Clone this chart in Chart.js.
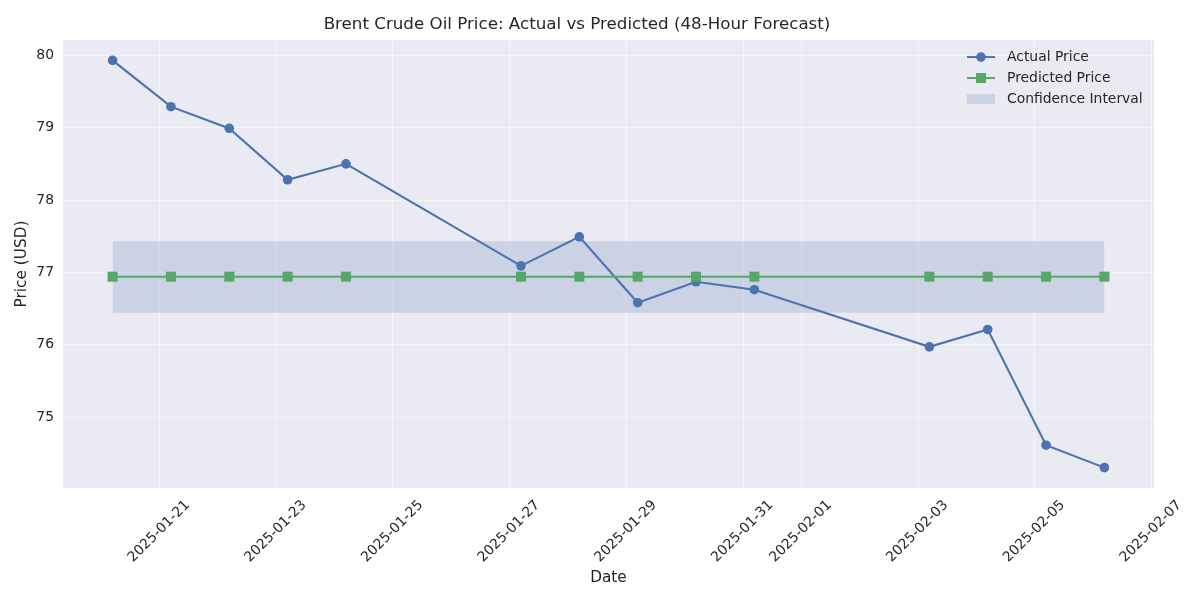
<!DOCTYPE html>
<html>
<head>
<meta charset="utf-8">
<script src="https://cdn.jsdelivr.net/npm/chart.js@4.4.1/dist/chart.umd.min.js"></script>
<style>
  html, body { margin: 0; padding: 0; background: #fff; }
  #wrap { width: 1200px; height: 600px; }
</style>
</head>
<body>
<div id="wrap"><canvas id="oilChart" width="1200" height="600"></canvas></div>
<script>
// data
const dates = [
    "2025-01-20T04:40Z", "2025-01-21T04:40Z", "2025-01-22T04:40Z", "2025-01-23T04:40Z", "2025-01-24T04:40Z",
    "2025-01-27T04:40Z", "2025-01-28T04:40Z", "2025-01-29T04:40Z", "2025-01-30T04:40Z", "2025-01-31T04:40Z",
    "2025-02-03T04:40Z", "2025-02-04T04:40Z", "2025-02-05T04:40Z", "2025-02-06T04:40Z"
];
const actualPrice = [79.93, 79.29, 78.99, 78.28, 78.50, 77.09, 77.49, 76.58, 76.87, 76.76, 75.97, 76.21, 74.61, 74.30];
const predictedPrice = [76.94, 76.94, 76.94, 76.94, 76.94, 76.94, 76.94, 76.94, 76.94, 76.94, 76.94, 76.94, 76.94, 76.94];
const ciUpper = [77.43, 77.43, 77.43, 77.43, 77.43, 77.43, 77.43, 77.43, 77.43, 77.43, 77.43, 77.43, 77.43, 77.43];
const ciLower = [76.44, 76.44, 76.44, 76.44, 76.44, 76.44, 76.44, 76.44, 76.44, 76.44, 76.44, 76.44, 76.44, 76.44];
const xTickDates = ["2025-01-21", "2025-01-23", "2025-01-25", "2025-01-27", "2025-01-29", "2025-01-31",
    "2025-02-01", "2025-02-03", "2025-02-05", "2025-02-07"];
const yTicks = [75, 76, 77, 78, 79, 80];

const BLUE = "#4c72b0";
const GREEN = "#55a868";
const BAND = "rgba(76, 114, 176, 0.2)";
const TEXT = "#262626";
const FONT = "'DejaVu Sans', sans-serif";

const xs = dates.map(d => Date.parse(d));
const pts = arr => arr.map((v, i) => ({ x: xs[i], y: v }));

// matplotlib style 5% margins
const xMin = Math.min(...xs), xMax = Math.max(...xs);
const xPad = (xMax - xMin) * 0.05;
const yMin = Math.min(...actualPrice), yMax = Math.max(...actualPrice);
const yPad = (yMax - yMin) * 0.05;

const plotBg = {
    id: "plotBg",
    beforeDraw(chart) {
        const { ctx, chartArea: a } = chart;
        ctx.save();
        ctx.fillStyle = "#eaeaf2";
        ctx.fillRect(a.left, a.top, a.right - a.left, a.bottom - a.top);
        ctx.restore();
    }
};

// legend drawn inside the plot, top right, with line+marker swatches
const innerLegend = {
    id: "innerLegend",
    afterDraw(chart) {
        const { ctx, chartArea: a } = chart;
        const x0 = a.right - 187;
        let y = a.top + 17;
        const items = [
            { label: "Actual Price", color: BLUE, marker: "circle" },
            { label: "Predicted Price", color: GREEN, marker: "square" },
            { label: "Confidence Interval", color: BAND, marker: "patch" },
        ];
        ctx.save();
        ctx.font = "13.9px " + FONT;
        ctx.textBaseline = "middle";
        items.forEach(it => {
            if (it.marker === "patch") {
                ctx.fillStyle = it.color;
                ctx.fillRect(x0, y - 5, 28, 10);
            } else {
                ctx.strokeStyle = it.color;
                ctx.lineWidth = 2;
                ctx.beginPath();
                ctx.moveTo(x0, y);
                ctx.lineTo(x0 + 28, y);
                ctx.stroke();
                ctx.fillStyle = it.color;
                if (it.marker === "circle") {
                    ctx.beginPath();
                    ctx.arc(x0 + 14, y, 4.8, 0, Math.PI * 2);
                    ctx.fill();
                } else {
                    ctx.fillRect(x0 + 9, y - 5, 10, 10);
                }
            }
            ctx.fillStyle = TEXT;
            ctx.fillText(it.label, x0 + 40, y);
            y += 21;
        });
        ctx.restore();
    }
};

new Chart(document.getElementById("oilChart").getContext("2d"), {
    type: "line",
    data: {
        datasets: [
            {
                label: "Predicted Price", data: pts(predictedPrice), borderColor: GREEN, backgroundColor: GREEN,
                borderWidth: 2.1, pointStyle: "rect", pointRadius: 7.07, pointBorderWidth: 0, order: 1, fill: false
            },
            {
                label: "Actual Price", data: pts(actualPrice), borderColor: BLUE, backgroundColor: BLUE,
                borderWidth: 2.1, pointStyle: "circle", pointRadius: 4.8, pointBorderWidth: 0, order: 2, fill: false
            },
            {
                label: "CI lower", data: pts(ciLower), borderWidth: 0, pointRadius: 0, order: 4, fill: false,
                borderColor: "rgba(0,0,0,0)"
            },
            {
                label: "Confidence Interval", data: pts(ciUpper), borderWidth: 0, pointRadius: 0, order: 3,
                borderColor: "rgba(0,0,0,0)", backgroundColor: BAND, fill: "-1"
            },
        ]
    },
    options: {
        responsive: false,
        animation: false,
        events: [],
        layout: { padding: { left: 0, right: 46, top: 0, bottom: 0 } },
        elements: { line: { tension: 0 } },
        plugins: {
            legend: { display: false },
            tooltip: { enabled: false },
            title: {
                display: true,
                text: "Brent Crude Oil Price: Actual vs Predicted (48-Hour Forecast)",
                color: TEXT,
                font: { family: FONT, size: 16.7, weight: "normal" },
                padding: { top: 15, bottom: 5 }
            }
        },
        scales: {
            x: {
                type: "linear",
                min: xMin - xPad,
                max: xMax + xPad,
                afterBuildTicks: scale => { scale.ticks = xTickDates.map(d => ({ value: Date.parse(d + "T00:00Z") })); },
                afterFit: scale => { scale.height = 112; },
                ticks: {
                    autoSkip: false,
                    minRotation: 45,
                    maxRotation: 45,
                    labelOffset: 28,
                    padding: 9,
                    color: TEXT,
                    font: { family: FONT, size: 13.9 },
                    callback: v => new Date(v).toISOString().slice(0, 10)
                },
                grid: { color: "rgba(255,255,255,0.45)", lineWidth: 1, drawTicks: false },
                border: { display: false },
                title: {
                    display: true, text: "Date", color: TEXT,
                    font: { family: FONT, size: 15.3 }, padding: { top: 0, bottom: 13 }
                }
            },
            y: {
                min: yMin - yPad,
                max: yMax + yPad,
                afterBuildTicks: scale => { scale.ticks = yTicks.map(v => ({ value: v })); },
                afterFit: scale => { scale.width = 63; },
                ticks: {
                    padding: 9,
                    color: TEXT,
                    font: { family: FONT, size: 13.9 }
                },
                grid: { color: "rgba(255,255,255,0.45)", lineWidth: 1, drawTicks: false },
                border: { display: false },
                title: {
                    display: true, text: "Price (USD)", color: TEXT,
                    font: { family: FONT, size: 15.3 }, padding: { top: 13, bottom: 0 }
                }
            }
        }
    },
    plugins: [plotBg, innerLegend]
});
</script>
</body>
</html>
